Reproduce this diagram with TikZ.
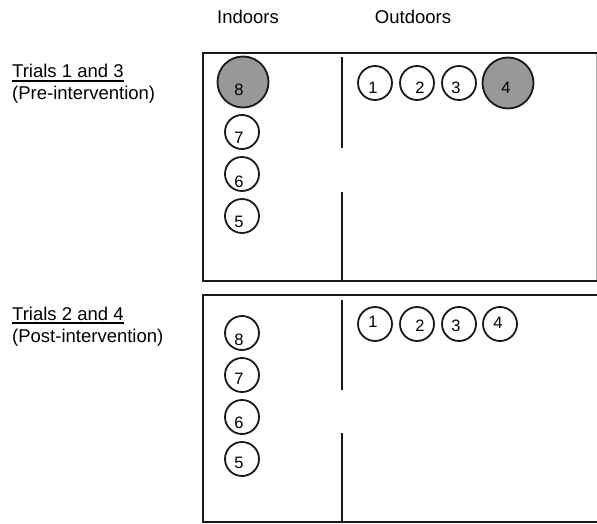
\documentclass[tikz,border=0pt]{standalone}
\usepackage{fontspec}
\setmainfont{Liberation Sans}
\definecolor{dot}{RGB}{152,152,152}
\definecolor{ink}{RGB}{25,25,25}
\begin{document}
\begin{tikzpicture}[x=1pt,y=-1pt,
  head/.style={font=\fontsize{18.5}{22}\selectfont, anchor=base, inner sep=0pt},
  side/.style={font=\fontsize{18.5}{22}\selectfont, anchor=base west, inner sep=0pt},
  wall/.style={draw=ink, line width=2pt},
  seat/.style={circle, draw=ink, line width=1.8pt, minimum size=34pt, inner sep=0pt},
  bigseat/.style={seat, fill=dot, minimum size=51pt},
  num/.style={font=\fontsize{16.5}{16.5}\selectfont, inner sep=0pt}
]
\useasboundingbox (0,0) rectangle (597,524);

% headings
\node[head] (hin) at (248,24) {Indoors};
\node[head] (hout) at (413,24) {Outdoors};

% side labels
\node[side] (t13) at (12,78) {Trials 1 and 3};
\node[side] (pre) at (12,100) {(Pre-intervention)};
\draw[line width=1.3pt] ([yshift=-3pt]t13.base west) -- ([yshift=-3pt]t13.base east);
\node[side] (t24) at (12,320) {Trials 2 and 4};
\node[side] (post) at (12,342) {(Post-intervention)};
\draw[line width=1.3pt] ([yshift=-3pt]t24.base west) -- ([yshift=-3pt]t24.base east);

% top box
\draw[wall] (610,53) -- (203,53) -- (203,281) -- (610,281);
\draw[draw=gray!60, line width=0.8pt] (596,54) -- (596,280);
\draw[wall] (342,57) -- (342,148);
\draw[wall] (342,192) -- (342,281);

\node[bigseat, label={[num,xshift=-4pt,yshift=-8pt]center:8}] (a8) at (243,82) {};
\node[seat, label={[num,xshift=-3pt,yshift=-6pt]center:7}] (a7) at (242,132) {};
\node[seat, label={[num,xshift=-3pt,yshift=-8pt]center:6}] (a6) at (242,174) {};
\node[seat, label={[num,xshift=-3pt,yshift=-6pt]center:5}] (a5) at (242,216) {};
\node[seat, label={[num,xshift=-2pt,yshift=-5pt]center:1}] (a1) at (375,83) {};
\node[seat, label={[num,xshift=3pt,yshift=-5pt]center:2}] (a2) at (417,83) {};
\node[seat, label={[num,xshift=-3pt,yshift=-5pt]center:3}] (a3) at (459,83) {};
\node[bigseat, label={[num,xshift=-2pt,yshift=-5pt]center:4}] (a4) at (508,83) {};

% bottom box
\draw[wall] (610,295) -- (203,295) -- (203,522) -- (610,522);
\draw[wall] (342,300) -- (342,390);
\draw[wall] (342,433) -- (342,522);

\node[seat, label={[num,xshift=-3pt,yshift=-7pt]center:8}] (b8) at (242,333) {};
\node[seat, label={[num,xshift=-3pt,yshift=-4pt]center:7}] (b7) at (242,375) {};
\node[seat, label={[num,xshift=-3pt,yshift=-6pt]center:6}] (b6) at (242,417) {};
\node[seat, label={[num,xshift=-3pt,yshift=-4pt]center:5}] (b5) at (242,459) {};
\node[seat, label={[num,xshift=-2pt,yshift=2pt]center:1}] (b1) at (375,324) {};
\node[seat, label={[num,xshift=3pt,yshift=-2pt]center:2}] (b2) at (417,324) {};
\node[seat, label={[num,xshift=-3pt,yshift=-2pt]center:3}] (b3) at (459,324) {};
\node[seat, label={[num,xshift=-2pt,yshift=1pt]center:4}] (b4) at (500,324) {};
\end{tikzpicture}
\end{document}
